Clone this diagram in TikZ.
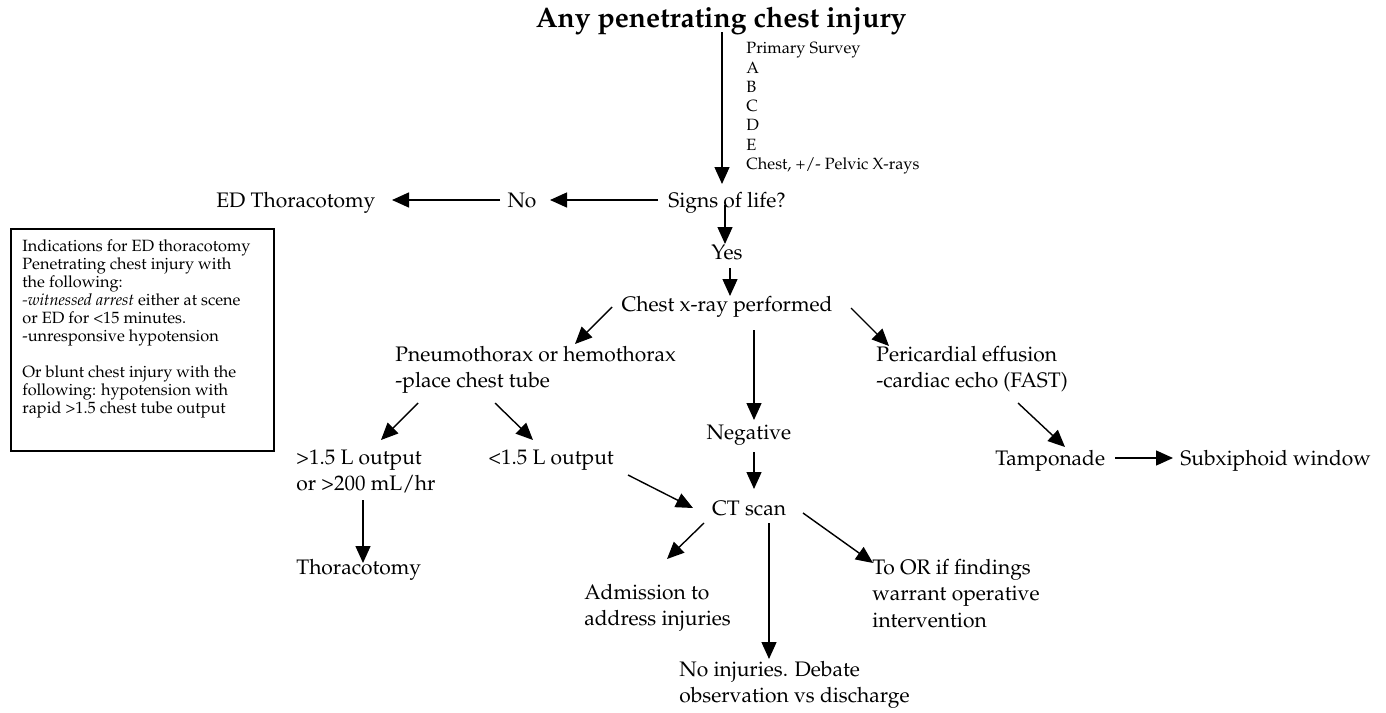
\documentclass[tikz,border=0pt]{standalone}
\usepackage[T1]{fontenc}
\usepackage{mathpazo}
\usetikzlibrary{arrows.meta}
\newcommand{\mainsz}{\fontsize{10.5}{13.25}\selectfont}
\newcommand{\smallsz}{\fontsize{8.15}{9.6}\selectfont}
\newcommand{\boxsz}{\fontsize{8.15}{9}\selectfont}
\newcommand{\titlesz}{\fontsize{14.1}{17}\selectfont\bfseries}
\newcommand{\ml}[1]{\begin{tabular}[t]{@{}l@{}}#1\end{tabular}}
\tikzset{
  txt/.style={inner sep=0pt, anchor=base west, font=\mainsz},
  ctxt/.style={txt, anchor=base},
  smalltxt/.style={inner sep=0pt, anchor=base west, font=\smallsz},
  boxtxt/.style={inner sep=0pt, anchor=base west, font=\boxsz},
  arr/.style={line width=0.7pt, -{Triangle[length=8.5pt,width=7.5pt]}},
  frame/.style={line width=0.6pt}
}
\begin{document}
\begin{tikzpicture}[x=0.5pt,y=-0.5pt]
\useasboundingbox (0,0) rectangle (1386,712);
% nodes
\node[ctxt, font=\titlesz] (title) at (721,27) {Any penetrating chest injury};
\node[smalltxt] (ps) at (746,54) {\ml{Primary Survey\\A\\B\\C\\D\\E\\Chest, +/- Pelvic X-rays}};
\node[ctxt] (signs) at (727,207) {Signs of life?};
\node[ctxt] (no) at (522,207) {No};
\node[txt] (edt) at (216,207) {ED Thoracotomy};
\node[ctxt] (yes) at (727,259) {Yes};
\node[ctxt] (cxr) at (727,311) {Chest x-ray performed};
\node[txt] (pneumo) at (395,361) {\ml{Pneumothorax or hemothorax\\-place chest tube}};
\node[txt] (peri) at (876,361) {\ml{Pericardial effusion\\-cardiac echo (FAST)}};
\node[txt] (gt) at (296,464) {\ml{>1.5 L output\\or >200 mL/hr}};
\node[txt] (lt) at (488,464) {<1.5 L output};
\node[txt] (thor) at (296,574) {Thoracotomy};
\node[ctxt] (neg) at (749,439) {Negative};
\node[ctxt] (ct) at (749,515) {CT scan};
\node[txt] (adm) at (584,599) {\ml{Admission to\\address injuries}};
\node[txt] (tor) at (872,574) {\ml{To OR if findings\\warrant operative\\intervention}};
\node[txt] (noinj) at (679,676) {\ml{No injuries. Debate\\observation vs discharge}};
\node[txt] (tamp) at (995,465) {Tamponade};
\node[txt] (subx) at (1180,465) {Subxiphoid window};
% indications box
\draw[frame] (11,229) rectangle (274,451);
\node[boxtxt] (ind) at (22,251) {\ml{Indications for ED thoracotomy\\Penetrating chest injury with\\the following:\\\textit{-witnessed arrest} either at scene\\or ED for <15 minutes.\\-unresponsive hypotension\\ \\Or blunt chest injury with the\\following: hypotension with\\rapid >1.5 chest tube output}};
% connector end points
\coordinate (t1) at (722,32);   \coordinate (h1) at (722,184);
\coordinate (t2) at (658,200);  \coordinate (h2) at (550,200);
\coordinate (t3) at (500,200);  \coordinate (h3) at (392,200);
\coordinate (t4) at (725,205);  \coordinate (h4) at (725,244);
\coordinate (t5) at (730,268);  \coordinate (h5) at (730,296);
\coordinate (t6) at (612,307);  \coordinate (h6) at (575,344);
\coordinate (t7) at (851,308);  \coordinate (h7) at (889,346);
\coordinate (t8) at (754,330);  \coordinate (h8) at (754,420);
\coordinate (t9) at (418,403);  \coordinate (h9) at (381,440);
\coordinate (t10) at (495,403); \coordinate (h10) at (533,440);
\coordinate (t11) at (363,500); \coordinate (h11) at (363,563);
\coordinate (t12) at (628,475); \coordinate (h12) at (693,508);
\coordinate (t13) at (754,452); \coordinate (h13) at (754,489);
\coordinate (t14) at (704,523); \coordinate (h14) at (667,559);
\coordinate (t15) at (769,523); \coordinate (h15) at (769,659);
\coordinate (t16) at (803,513); \coordinate (h16) at (873,563);
\coordinate (t17) at (1018,403); \coordinate (h17) at (1065,447);
\coordinate (t18) at (1115,458); \coordinate (h18) at (1173,458);
\foreach \i in {1,...,18} {\draw[arr] (t\i) -- (h\i);}
\end{tikzpicture}
\end{document}
